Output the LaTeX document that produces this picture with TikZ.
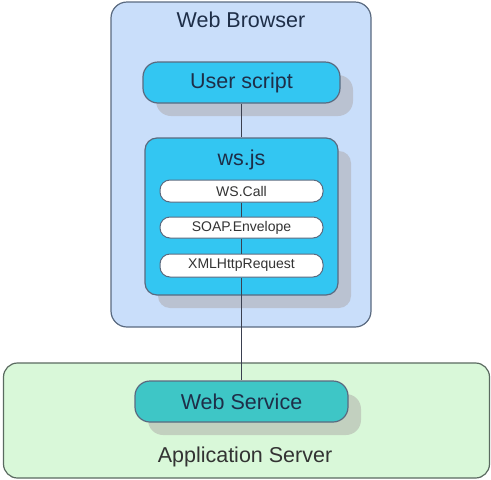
\documentclass[tikz,border=0pt]{standalone}
\usepackage{fontspec}
\setmainfont{Liberation Sans}
\usetikzlibrary{shadows}
\definecolor{browserfill}{HTML}{C9DEFA}
\definecolor{browserline}{HTML}{5A6A80}
\definecolor{cyanfill}{HTML}{33C6F2}
\definecolor{tealfill}{HTML}{3EC6C6}
\definecolor{serverfill}{HTML}{D9F8D9}
\definecolor{serverline}{HTML}{5A6A60}
\definecolor{shadowgray}{HTML}{A8A0A0}
\definecolor{textdark}{HTML}{1E2E48}
\definecolor{connline}{HTML}{3A4050}
\tikzset{
  bigtext/.style={font=\fontsize{21.5}{25}\selectfont, text=textdark},
  smalltext/.style={font=\fontsize{14}{16}\selectfont, text=black!80},
  container/.style={draw=browserline, line width=1.2pt, rounded corners=16pt},
  pill/.style={draw=browserline, line width=1.2pt, rounded corners=15pt, inner sep=0pt,
    bigtext, drop shadow={shadow xshift=13pt, shadow yshift=-13pt, fill=shadowgray, opacity=0.45}},
  whitepill/.style={draw=browserline, line width=1pt, fill=white, rounded corners=10pt,
    inner sep=0pt, smalltext, minimum width=163pt},
  conn/.style={draw=connline, line width=1pt}
}
\begin{document}
\begin{tikzpicture}[x=1pt,y=-1pt]
\useasboundingbox (0,0) rectangle (491,480);
% containers
\node[container, fill=browserfill, minimum width=260pt, minimum height=325pt] (browser) at (241,164.5) {};
\node[bigtext] (browsertitle) at (241,20) {Web Browser};
\node[container, draw=serverline, fill=serverfill, rounded corners=14pt, minimum width=486pt, minimum height=115pt] (server) at (246.5,420.5) {};
\node[bigtext, text=black!80] (servertitle) at (245,457) {Application Server};
% user script
\node[pill, fill=cyanfill, minimum width=197pt, minimum height=41pt] (user) at (241.5,82.5) {User script};
% ws.js
\node[pill, fill=cyanfill, rounded corners=12pt, minimum width=193pt, minimum height=157pt] (wsjs) at (241.5,216.5) {};
\node[bigtext] (wstitle) at (241.5,160) {ws.js};
\node[whitepill, minimum height=22pt] (wscall) at (241.5,191) {WS.Call};
\node[whitepill, minimum height=21pt] (soap) at (241.5,227.5) {SOAP.Envelope};
\node[whitepill, minimum height=23pt] (xml) at (241.5,265.5) {XMLHttpRequest};
% web service
\node[pill, fill=tealfill, minimum width=213pt, minimum height=41pt] (websvc) at (241.5,401.5) {Web Service};
% connectors
\draw[conn] (user.south) -- (wsjs.north);
\draw[conn] (wscall.south) -- (soap.north);
\draw[conn] (soap.south) -- (xml.north);
\draw[conn] (xml.south) -- (websvc.north);
\end{tikzpicture}
\end{document}
